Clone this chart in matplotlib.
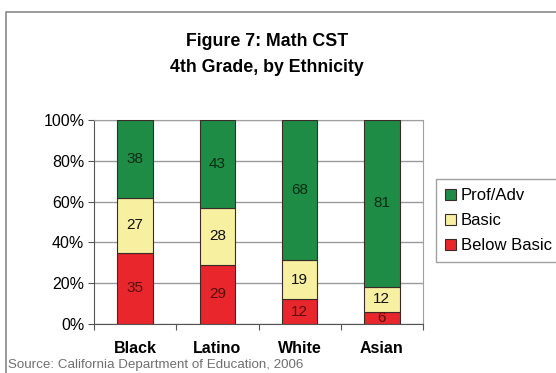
import numpy as np
import matplotlib
matplotlib.use("Agg")
import matplotlib.pyplot as plt
from matplotlib.patches import Rectangle
from matplotlib.ticker import FixedLocator, NullFormatter

plt.rcParams['font.family'] = ['Liberation Sans', 'DejaVu Sans']

groups = ['Black', 'Latino', 'White', 'Asian']
below_basic = [35, 29, 12, 6]
basic = [27, 28, 19, 12]
prof_adv = [38, 43, 68, 81]
y_ticks = [0, 20, 40, 60, 80, 100]

colors = {'below': '#e8262b', 'basic': '#f7f0a0', 'prof': '#1f8c45'}
text_colors = {'below': '#5a0d0d', 'basic': '#111111', 'prof': '#0d2b14'}

# 100% stacked: each column scaled to its own total
raw = np.array([below_basic, basic, prof_adv], dtype=float)
share = raw / raw.sum(axis=0) * 100

fig = plt.figure(figsize=(5.56, 3.73), dpi=100)
fig.patch.set_facecolor('white')

# outer chart frame
fig.add_artist(Rectangle((6 / 556, -0.05), 1.0, 1 - 12 / 373 + 0.05,
                         transform=fig.transFigure, fill=False,
                         edgecolor='#8a8a8a', linewidth=1.2))

ax = fig.add_axes([94 / 556, 1 - 324 / 373, 329 / 556, 204 / 373])
x = np.arange(len(groups))
width = 0.43

bottom = np.zeros(len(groups))
handles = []
for key, label, vals, pct in [('below', 'Below Basic', below_basic, share[0]),
                              ('basic', 'Basic', basic, share[1]),
                              ('prof', 'Prof/Adv', prof_adv, share[2])]:
    bars = ax.bar(x, pct, width, bottom=bottom, color=colors[key],
                  edgecolor='#3a2a2a', linewidth=0.8, label=label, zorder=3)
    handles.append(bars)
    for xi, b, p, v in zip(x, bottom, pct, vals):
        ax.text(xi, b + p / 2, str(v), ha='center', va='center',
                fontsize=11, color=text_colors[key], zorder=4)
    bottom += pct

ax.set_xlim(-0.5, len(groups) - 0.5)
ax.set_ylim(0, 100)
ax.yaxis.set_major_locator(FixedLocator(y_ticks))
ax.set_yticklabels([f'{t}%' for t in y_ticks], fontsize=11.5)
ax.xaxis.set_major_locator(FixedLocator(np.arange(-0.5, len(groups), 1.0)))
ax.xaxis.set_major_formatter(NullFormatter())
for xi, g in zip(x, groups):
    ax.text(xi, -12, g, ha='center', va='center', fontsize=11.5,
            fontweight='bold', transform=ax.transData, clip_on=False)

ax.grid(axis='y', color='#9a9a9a', linewidth=1.0, zorder=0)
ax.tick_params(axis='both', direction='out', length=4, color='#555555', pad=3)
for side in ['top', 'right']:
    ax.spines[side].set_color('#a0a0a0')
for side in ['left', 'bottom']:
    ax.spines[side].set_color('#555555')

fig.text(267 / 556, 1 - 42 / 373, 'Figure 7: Math CST', ha='center', va='center',
         fontsize=12.8, fontweight='bold')
fig.text(267 / 556, 1 - 68 / 373, '4th Grade, by Ethnicity', ha='center', va='center',
         fontsize=12.8, fontweight='bold')
fig.text(8 / 556, 2 / 373, 'Source: California Department of Education, 2006',
         ha='left', va='bottom', fontsize=9.6, color='#707070')

leg = fig.legend(handles[::-1], ['Prof/Adv', 'Basic', 'Below Basic'],
                 loc='upper left', bbox_to_anchor=(436 / 556, 1 - 179 / 373),
                 fontsize=12, frameon=True, fancybox=False,
                 handlelength=0.65, handleheight=0.65, handletextpad=0.3,
                 borderpad=0.55, labelspacing=0.6, borderaxespad=0)
leg.get_frame().set_edgecolor('#8a8a8a')
leg.get_frame().set_linewidth(1.0)

fig.savefig('out.png', dpi=100)
